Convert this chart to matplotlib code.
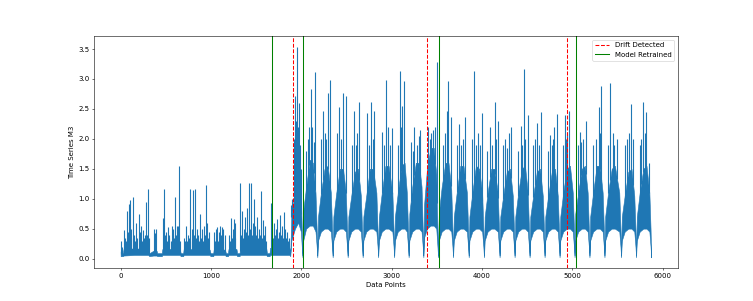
import numpy as np
import matplotlib.pyplot as plt

# dense part of the series: index, lower edge, upper edge
band_x = [0, 25, 32, 150, 305, 318, 362, 398, 405, 455, 462, 655, 665, 692, 698, 985, 995,
          1025, 1030, 1155, 1165, 1188, 1194, 1282, 1290, 1316, 1322, 1612, 1620, 1648, 1655,
          1868, 1878, 1890, 1930, 1965, 1995, 2005,
          2013, 2021, 2053, 2093, 2128, 2157, 2170,
          2177, 2185, 2217, 2257, 2292, 2327, 2340,
          2347, 2355, 2387, 2427, 2462, 2493, 2506,
          2513, 2521, 2553, 2593, 2628, 2659, 2672,
          2679, 2687, 2719, 2759, 2794, 2831, 2844,
          2851, 2859, 2891, 2931, 2966, 3008, 3021,
          3028, 3036, 3068, 3108, 3143, 3168, 3181,
          3188, 3196, 3228, 3268, 3303, 3331, 3344,
          3351, 3359, 3391, 3431, 3466, 3494, 3507,
          3514, 3522, 3554, 3594, 3629, 3660, 3673,
          3680, 3688, 3720, 3760, 3795, 3833, 3846,
          3853, 3861, 3893, 3933, 3968, 4002, 4015,
          4022, 4030, 4062, 4102, 4137, 4175, 4188,
          4195, 4203, 4235, 4275, 4310, 4341, 4354,
          4361, 4369, 4401, 4441, 4476, 4507, 4520,
          4527, 4535, 4567, 4607, 4642, 4673, 4686,
          4693, 4701, 4733, 4773, 4808, 4839, 4852,
          4859, 4867, 4899, 4939, 4974, 5005, 5018,
          5025, 5033, 5065, 5105, 5140, 5170, 5183,
          5190, 5198, 5230, 5270, 5305, 5336, 5349,
          5356, 5364, 5396, 5436, 5471, 5520, 5533,
          5540, 5548, 5580, 5620, 5655, 5686, 5699,
          5706, 5714, 5746, 5786, 5821, 5853, 5866, 5873]
band_lo = [.04, .04, .05, .06, .06, .04, .05, .05, .04, .04, .06, .06, .04, .04, .06, .06, .04,
           .04, .06, .06, .04, .04, .06, .06, .04, .04, .06, .06, .04, .04, .06,
           .06, .04, .30, .50, .60, .45, .20,
           .02, .30, .50, .55, .55, .45, .20,
           .02, .30, .45, .50, .50, .45, .20,
           .02, .30, .45, .50, .50, .45, .20,
           .02, .30, .45, .50, .50, .45, .20,
           .02, .30, .45, .50, .50, .45, .20,
           .02, .30, .45, .50, .50, .45, .20,
           .02, .30, .45, .50, .50, .45, .20,
           .02, .30, .45, .50, .50, .45, .20,
           .02, .35, .50, .55, .55, .50, .20,
           .02, .30, .45, .50, .50, .45, .20,
           .02, .30, .45, .50, .50, .45, .20,
           .02, .30, .45, .50, .50, .45, .20,
           .02, .30, .45, .50, .50, .45, .20,
           .02, .30, .45, .50, .50, .45, .20,
           .02, .30, .45, .50, .50, .45, .20,
           .02, .30, .45, .50, .50, .45, .20,
           .02, .30, .45, .50, .50, .45, .20,
           .02, .30, .45, .50, .50, .45, .20,
           .02, .30, .45, .50, .50, .45, .20,
           .02, .30, .45, .50, .50, .45, .20,
           .02, .30, .45, .50, .50, .45, .20,
           .02, .30, .45, .50, .50, .45, .20,
           .02, .30, .45, .50, .50, .45, .20, .02]
band_hi = [.12, .09, .16, .17, .16, .09, .13, .13, .09, .09, .16, .16, .09, .09, .16, .15, .09,
           .09, .15, .15, .09, .09, .16, .16, .09, .09, .17, .17, .09, .09, .18,
           .18, .10, .75, 1.10, 1.30, 1.10, .50,
           .05, .80, 1.20, 1.65, 1.60, 1.10, .50,
           .05, .70, 1.10, 1.50, 1.55, 1.10, .50,
           .05, .70, 1.10, 1.50, 1.50, 1.10, .50,
           .05, .70, 1.05, 1.45, 1.50, 1.05, .50,
           .05, .70, 1.05, 1.50, 1.50, 1.10, .50,
           .05, .70, 1.10, 1.55, 1.55, 1.10, .50,
           .05, .70, 1.10, 1.55, 1.60, 1.10, .50,
           .05, .75, 1.20, 1.60, 1.60, 1.20, .50,
           .05, .90, 1.50, 1.85, 1.85, 1.40, .50,
           .05, .75, 1.20, 1.60, 1.60, 1.15, .50,
           .05, .70, 1.10, 1.55, 1.55, 1.10, .50,
           .05, .70, 1.10, 1.55, 1.50, 1.10, .50,
           .05, .70, 1.10, 1.50, 1.50, 1.10, .50,
           .05, .70, 1.05, 1.45, 1.50, 1.05, .50,
           .05, .70, 1.10, 1.50, 1.55, 1.10, .50,
           .05, .70, 1.05, 1.45, 1.50, 1.05, .50,
           .05, .70, 1.05, 1.45, 1.50, 1.05, .50,
           .05, .70, 1.10, 1.50, 1.55, 1.10, .50,
           .05, .75, 1.10, 1.50, 1.55, 1.10, .50,
           .05, .70, 1.10, 1.55, 1.55, 1.10, .50,
           .05, .70, 1.10, 1.50, 1.55, 1.10, .50,
           .05, .70, 1.05, 1.45, 1.50, 1.05, .50,
           .05, .70, 1.10, 1.50, 1.55, 1.10, .50, .04]

# spikes rising above the band
spike_x = [0, 15, 33, 50, 60, 70, 80, 89, 98, 107, 120, 133, 142, 150, 160, 170, 185, 200, 215, 222,
           230, 240, 247, 256, 265, 275, 284, 292, 299, 310,
           370, 378, 385, 395,
           469, 476, 483, 492, 500, 510, 520, 530, 540, 555, 568, 578, 585, 595, 605, 612, 620,
           628, 635, 646, 652,
           705, 715, 725, 735, 745, 758, 771, 785, 795, 801, 812, 823, 832, 840, 850, 860, 870,
           882, 890, 900, 910, 920, 930, 941, 955, 965, 975,
           1035, 1042, 1050, 1058, 1066, 1075, 1085, 1095, 1103, 1112, 1120, 1128, 1135, 1150,
           1200, 1210, 1221, 1230, 1240, 1248, 1255, 1262, 1270,
           1325, 1335, 1345, 1352, 1360, 1370, 1380, 1390, 1400, 1412, 1424, 1433, 1443, 1450,
           1460, 1472, 1480, 1490, 1500, 1510, 1520, 1530, 1545, 1557, 1565, 1575, 1585, 1595, 1605,
           1664, 1672, 1680, 1690, 1700, 1710, 1720, 1730, 1740, 1750, 1758, 1767, 1775, 1785,
           1795, 1804, 1812, 1820, 1830, 1840, 1850, 1860,
           1890, 1900, 1915, 1930, 1945, 1956, 1968, 1978, 1990, 2000,
           2050, 2070, 2090, 2104, 2120, 2135, 2151,
           2220, 2243, 2260, 2275, 2291, 2317,
           2395, 2417, 2440, 2464, 2490,
           2560, 2582, 2600, 2620, 2638,
           2722, 2745, 2770, 2790, 2807,
           2895, 2915, 2936, 2960, 2985, 3006,
           3070, 3093, 3105, 3119, 3141,
           3215, 3235, 3252, 3280, 3300, 3315,
           3400, 3420, 3440, 3460, 3480, 3500,
           3570, 3590, 3610, 3628, 3652,
           3725, 3746, 3770, 3790, 3809,
           3890, 3908, 3930, 3960, 3980, 4004,
           4060, 4093, 4115, 4140, 4160, 4176,
           4235, 4251, 4275, 4300, 4317,
           4400, 4428, 4445, 4461, 4480, 4506,
           4570, 4590, 4612, 4630, 4656,
           4730, 4748, 4770, 4790, 4802, 4833,
           4895, 4914, 4930, 4945, 4961,
           5065, 5080, 5100, 5120, 5146,
           5230, 5260, 5290, 5305, 5319,
           5400, 5422, 5445, 5460, 5490,
           5580, 5600, 5630, 5651, 5670,
           5745, 5765, 5787, 5800, 5816, 5850]
spike_y = [0.30, 0.20, 0.47, 0.35, 0.30, 0.80, 0.45, 0.91, 0.40, 0.98, 0.50, 1.02, 0.35, 0.40, 0.30, 0.60, 0.35, 0.74, 0.45, 0.30,
           0.55, 0.30, 0.47, 0.35, 0.40, 0.30, 0.94, 0.40, 1.17, 0.35,
           0.50, 0.30, 0.42, 0.50,
           0.68, 0.35, 1.17, 0.40, 0.45, 0.30, 0.52, 0.35, 0.40, 0.30, 0.55, 0.40, 0.50, 0.35, 1.02, 0.40, 0.55,
           0.35, 0.55, 1.55, 0.30,
           0.35, 0.30, 0.55, 0.30, 0.40, 0.35, 1.16, 0.50, 0.30, 1.14, 0.40, 1.17, 0.35, 0.50, 0.30, 0.40, 0.30,
           0.74, 0.35, 0.50, 0.30, 0.55, 0.40, 1.23, 0.60, 0.35, 0.45,
           0.45, 0.30, 0.50, 0.35, 0.52, 0.30, 0.45, 0.35, 0.55, 0.40, 0.52, 0.30, 0.50, 0.40,
           0.40, 0.30, 0.68, 0.35, 0.50, 0.40, 0.66, 0.35, 0.60,
           1.26, 0.40, 0.80, 0.35, 0.50, 0.40, 0.70, 0.45, 0.85, 0.40, 1.27, 0.50, 1.26, 0.40,
           0.60, 1.00, 0.35, 0.55, 0.40, 0.70, 0.35, 0.50, 0.40, 1.13, 0.35, 0.65, 0.40, 0.55, 0.30,
           0.93, 0.35, 0.50, 0.35, 0.60, 0.40, 0.50, 0.66, 0.35, 0.45, 0.30, 0.72, 0.40, 0.55,
           0.35, 0.77, 0.40, 0.50, 0.35, 0.45, 0.30, 0.35,
           0.90, 1.00, 2.00, 2.72, 2.30, 3.54, 2.20, 2.60, 1.90, 1.50,
           1.80, 2.00, 2.20, 2.83, 2.20, 1.95, 3.11,
           2.00, 2.47, 2.10, 2.00, 2.76, 2.98,
           2.10, 2.53, 2.00, 2.76, 2.72,
           1.90, 2.47, 1.90, 2.10, 2.61,
           2.43, 1.90, 2.62, 2.00, 2.47,
           2.11, 1.90, 2.98, 2.20, 1.90, 2.18,
           1.90, 3.13, 2.20, 2.55, 2.97,
           1.94, 1.80, 2.20, 1.90, 2.05, 2.15,
           2.20, 2.00, 2.10, 2.15, 2.20, 3.28,
           1.90, 2.10, 2.47, 2.97, 2.36,
           1.90, 2.25, 1.90, 2.00, 2.37,
           2.00, 3.13, 1.90, 2.10, 1.90, 2.43,
           1.80, 2.19, 1.90, 2.62, 2.00, 2.30,
           1.90, 2.00, 1.85, 2.10, 2.19,
           1.80, 2.22, 1.90, 3.17, 2.00, 2.39,
           1.90, 2.00, 2.26, 1.90, 2.44,
           1.80, 2.07, 1.90, 2.00, 2.20, 2.42,
           1.90, 2.39, 2.00, 2.10, 2.47,
           1.90, 2.11, 1.95, 2.00, 2.30,
           1.90, 2.00, 2.53, 2.10, 2.89,
           1.90, 2.94, 2.10, 1.90, 2.00,
           1.90, 2.00, 2.10, 2.58, 2.00,
           1.90, 2.00, 2.62, 2.10, 2.44, 1.60]

drift_points = [1910, 3390, 4940]
retrain_points = [1676, 2016, 3525, 5040]

fig = plt.figure(figsize=(15.06, 6.02), dpi=50)
ax = fig.gca()

ax.fill_between(band_x, band_lo, band_hi, color='#1f77b4', linewidth=0.8)
spike_base = np.interp(spike_x, band_x, band_hi) - 0.05
ax.vlines(spike_x, spike_base, spike_y, color='#1f77b4', linewidth=1.6)

for i, x in enumerate(drift_points):
    ax.axvline(x, color='red', linestyle='--', linewidth=1.5,
               label='Drift Detected' if i == 0 else None)
for i, x in enumerate(retrain_points):
    ax.axvline(x, color='green', linestyle='-', linewidth=1.5,
               label='Model Retrained' if i == 0 else None)

ax.set_xlabel('Data Points')
ax.set_ylabel('Time Series M3')
ax.legend(loc='upper right')

fig.savefig('out.png', dpi=50)
